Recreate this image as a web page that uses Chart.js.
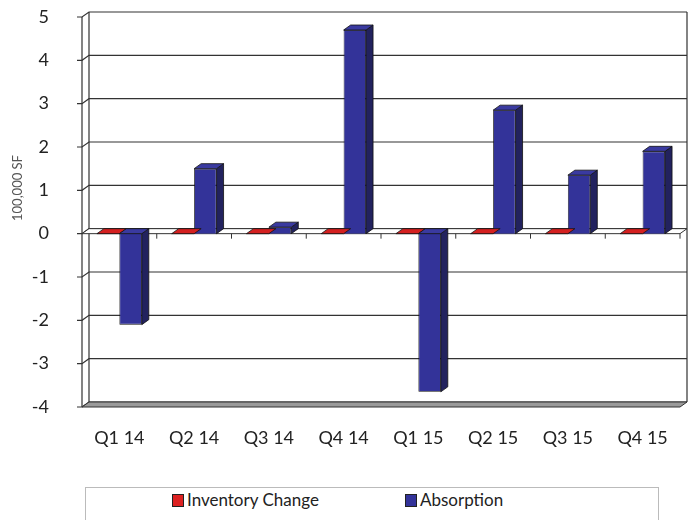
<!DOCTYPE html>
<html>
<head>
<meta charset="utf-8">
<script src="https://cdn.jsdelivr.net/npm/chart.js@4.4.0/dist/chart.umd.min.js"></script>
<style>
  body { margin: 0; background: #fff; font-family: Lato, sans-serif; }
  #wrap { position: relative; width: 691px; height: 520px; overflow: hidden; }
  #legend { position: absolute; left: 85px; top: 487px; width: 574px; height: 40px;
    border: 1px solid #bbb; box-sizing: border-box; font-size: 17px; color: #222; }
  .item { position: absolute; top: 1px; white-space: nowrap; }
  .box { display: inline-block; width: 10px; height: 11px; border: 1px solid #222; margin-right: 3px; vertical-align: -1px; }
</style>
</head>
<body>
<div id="wrap">
  <canvas id="absorptionChart" width="691" height="480"></canvas>
  <div id="legend"></div>
</div>
<script>
// values (100,000 SF)
var quarters = ["Q1 14", "Q2 14", "Q3 14", "Q4 14", "Q1 15", "Q2 15", "Q3 15", "Q4 15"];
var inventoryChange = [0, 0, 0, 0, 0, 0, 0, 0];
var absorption = [-2.1, 1.5, 0.15, 4.7, -3.65, 2.85, 1.35, 1.9];
var yTicks = [5, 4, 3, 2, 1, 0, -1, -2, -3, -4];

var DX = 7, DY = 5;  // fake 3d depth

function shade(ctx, pts, fill) {
    ctx.beginPath();
    ctx.moveTo(pts[0][0], pts[0][1]);
    for (var i = 1; i < pts.length; i++) ctx.lineTo(pts[i][0], pts[i][1]);
    ctx.closePath();
    ctx.fillStyle = fill;
    ctx.fill();
    ctx.stroke();
}

var walls = {
    id: 'walls',
    beforeDatasetsDraw: function (chart) {
        var ctx = chart.ctx, a = chart.chartArea;
        var y = chart.scales.y;
        ctx.save();
        ctx.strokeStyle = '#333';
        ctx.lineWidth = 1.2;
        // back wall grid lines + left wall
        yTicks.forEach(function (v) {
            var py = y.getPixelForValue(v);
            ctx.beginPath();
            ctx.moveTo(a.left - 5, py);
            ctx.lineTo(a.left, py);
            ctx.lineTo(a.left + DX, py - DY);
            ctx.lineTo(a.right + DX, py - DY);
            ctx.stroke();
        });
        ctx.beginPath();
        ctx.moveTo(a.left, a.top); ctx.lineTo(a.left, a.bottom);
        ctx.moveTo(a.left + DX, a.top - DY); ctx.lineTo(a.left + DX, a.bottom - DY);
        ctx.moveTo(a.right + DX, a.top - DY); ctx.lineTo(a.right + DX, a.bottom - DY);
        ctx.stroke();
        // floor
        ctx.lineWidth = 1;
        shade(ctx, [[a.left, a.bottom], [a.right, a.bottom], [a.right + DX, a.bottom - DY], [a.left + DX, a.bottom - DY]], '#9a9a9a');
        // zero plane
        var z = y.getPixelForValue(0);
        shade(ctx, [[a.left, z], [a.right, z], [a.right + DX, z - DY], [a.left + DX, z - DY]], '#fff');
        var step = (a.right - a.left) / quarters.length;
        ctx.beginPath();
        for (var i = 1; i <= quarters.length; i++) {
            ctx.moveTo(a.left + step * i, z);
            ctx.lineTo(a.left + step * i, z + 5);
        }
        ctx.stroke();
        ctx.restore();
    },
    afterDatasetsDraw: function (chart) {
        var ctx = chart.ctx;
        ctx.save();
        ctx.strokeStyle = '#111';
        ctx.lineWidth = 0.8;
        chart.data.datasets.forEach(function (ds, di) {
            chart.getDatasetMeta(di).data.forEach(function (bar) {
                var p = bar.getProps(['x', 'y', 'base', 'width'], true);
                var L = p.x - p.width / 2, R = p.x + p.width / 2;
                var top = Math.min(p.y, p.base), bot = Math.max(p.y, p.base);
                if (bot - top > 0.5) {
                    shade(ctx, [[R, top], [R + DX, top - DY], [R + DX, bot - DY], [R, bot]], ds.sideColor);
                }
                shade(ctx, [[L, top], [R, top], [R + DX, top - DY], [L + DX, top - DY]], ds.topColor);
            });
        });
        ctx.restore();
    },
    afterDraw: function (chart) {
        var ctx = chart.ctx;
        ctx.save();
        ctx.translate(18, 188);
        ctx.rotate(-Math.PI / 2);
        ctx.font = '13px Lato';
        ctx.fillStyle = '#555';
        ctx.textAlign = 'center';
        ctx.textBaseline = 'middle';
        ctx.fillText('100,000 SF', 0, 0);
        ctx.restore();
    }
};

var ctx = document.getElementById('absorptionChart').getContext('2d');
var absorptionChart = new Chart(ctx, {
    type: 'bar',
    data: {
        labels: quarters,
        datasets: [{
            label: 'Inventory Change',
            data: inventoryChange,
            backgroundColor: '#dd2222',
            topColor: '#d42020',
            sideColor: '#8a1515',
            borderColor: '#111',
            borderWidth: 0.8
        }, {
            label: 'Absorption',
            data: absorption,
            backgroundColor: '#333399',
            topColor: '#3a3aa0',
            sideColor: '#22225e',
            borderColor: '#111',
            borderWidth: 0.8
        }]
    },
    options: {
        responsive: false,
        animation: false,
        layout: { padding: { top: 17, right: 11, left: 0, bottom: 0 } },
        datasets: { bar: { categoryPercentage: 0.6, barPercentage: 1 } },
        plugins: { legend: { display: false }, tooltip: { enabled: false } },
        scales: {
            x: {
                grid: { display: false },
                border: { display: false },
                ticks: { color: '#222', font: { family: 'Lato', size: 18 }, padding: 12, maxRotation: 0 },
                afterFit: function (s) { s.height = 73; }
            },
            y: {
                min: -4, max: 5,
                grid: { display: false },
                border: { display: false },
                ticks: { stepSize: 1, color: '#222', font: { family: 'Lato', size: 18 }, padding: 25 },
                afterFit: function (s) { s.width = 82; s.paddingTop = 0; s.paddingBottom = 0; }
            }
        }
    },
    plugins: [walls]
});

// legend below the plot
var legend = document.getElementById('legend');
var items = [[absorptionChart.data.datasets[0], 86], [absorptionChart.data.datasets[1], 319]];
items.forEach(function (it) {
    var d = document.createElement('span');
    d.className = 'item';
    d.style.left = it[1] + 'px';
    d.innerHTML = '<span class="box" style="background:' + it[0].backgroundColor + '"></span>' + it[0].label;
    legend.appendChild(d);
});
</script>
</body>
</html>
